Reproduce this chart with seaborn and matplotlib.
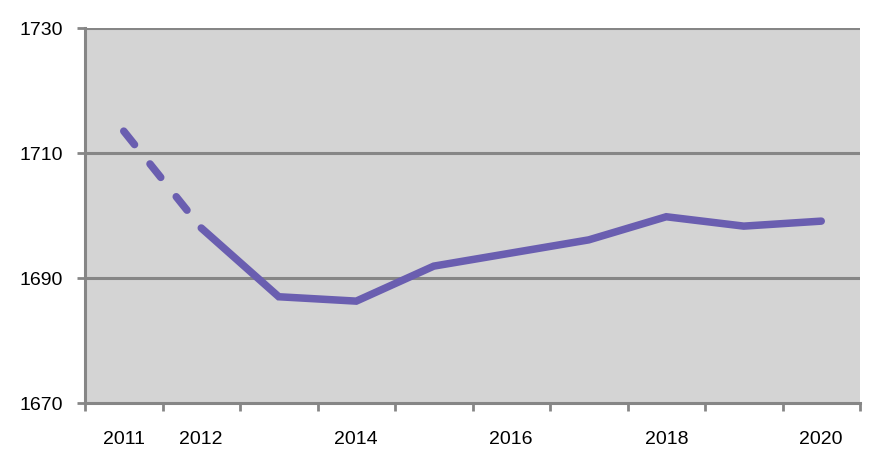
import matplotlib
matplotlib.use("Agg")
import matplotlib.pyplot as plt
import seaborn as sns
import pandas as pd

years = [2011, 2012, 2013, 2014, 2015, 2016, 2017, 2018, 2019, 2020]
values = [1713.5, 1698.0, 1687.0, 1686.3, 1691.9, 1694.0, 1696.1, 1699.8, 1698.3, 1699.1]
tick_labels = ["2011", "2012", "", "2014", "", "2016", "", "2018", "", "2020"]
y_ticks = [1670, 1690, 1710, 1730]

sns.set_theme(style="white")
plt.rcParams["font.family"] = ["Liberation Sans", "DejaVu Sans"]

df = pd.DataFrame({"pos": range(len(years)), "value": values})

fig = plt.figure(figsize=(8.91, 4.69), dpi=100)
ax = fig.add_axes([85 / 891, 1 - 403 / 469, 775 / 891, 375 / 469])
ax.set_facecolor("#d4d4d4")

line_color = "#6a5eb0"
sns.lineplot(data=df.iloc[:2], x="pos", y="value", ax=ax, color=line_color,
             linewidth=5.4)
sns.lineplot(data=df.iloc[1:], x="pos", y="value", ax=ax, color=line_color,
             linewidth=5.4)
dashed, solid = ax.lines[0], ax.lines[1]
dashed.set_linestyle((0, (2.3, 3.3)))
dashed.set_dash_capstyle("round")
solid.set_solid_capstyle("round")
solid.set_solid_joinstyle("miter")

ax.set_xlim(-0.5, len(years) - 0.5)
ax.set_ylim(1670, 1730)

grid_color = "#868686"
for y in y_ticks[1:]:
    ax.axhline(y, color=grid_color, linewidth=2.2, zorder=1)

ax.set_yticks(y_ticks)
ax.set_yticklabels([str(v) for v in y_ticks])
ax.set_xticks([i - 0.5 for i in range(len(years) + 1)])
ax.set_xticklabels([])
ax.set_xticks(list(range(len(years))), minor=True)
ax.set_xticklabels(tick_labels, minor=True)

ax.tick_params(axis="x", which="major", direction="out", length=6, width=2,
               color=grid_color, bottom=True)
ax.tick_params(axis="x", which="minor", length=0, pad=20, labelsize=14,
               labelcolor="black", bottom=True)
ax.tick_params(axis="y", direction="out", length=6, width=2, color=grid_color,
               pad=10, labelsize=14, labelcolor="black", left=True)

for side in ["top", "right"]:
    ax.spines[side].set_visible(False)
for side in ["left", "bottom"]:
    ax.spines[side].set_color(grid_color)
    ax.spines[side].set_linewidth(2.2)

ax.set_xlabel("")
ax.set_ylabel("")

fig.savefig("out.png", dpi=100)
